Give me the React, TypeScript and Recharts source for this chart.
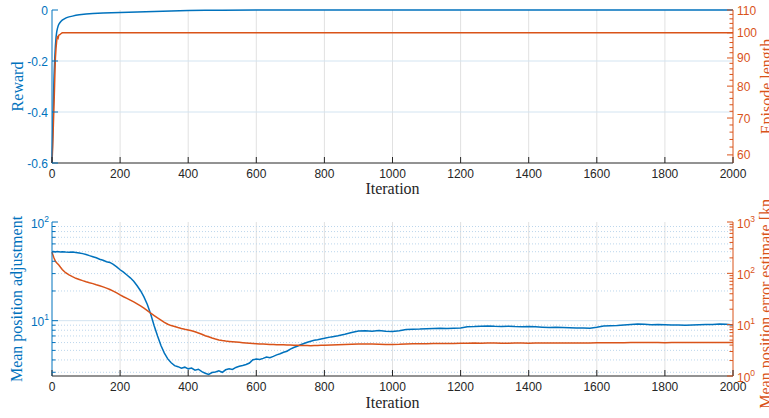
import React from 'react';
import { ComposedChart, Line, XAxis, YAxis, CartesianGrid } from 'recharts';

const BLUE = '#0072BD';
const ORANGE = '#D95319';
const DARK = '#262626';
const GRID_X = '#e1e1e1';
const GRID_Y = '#d3e4f1';
const GRID_MINOR = '#bcd6ec';
const TICK_FONT = '"Liberation Sans", Arial, Helvetica, sans-serif';
const LABEL_FONT = '"Liberation Serif", "Times New Roman", serif';

const xTicks = [0, 200, 400, 600, 800, 1000, 1200, 1400, 1600, 1800, 2000];
const xGrid = [200, 400, 600, 800, 1000, 1200, 1400, 1600, 1800];

// ---- top panel ----
const topIterations = [0, 2, 4, 6, 8, 10, 12, 14, 16, 18, 20, 23, 26, 30, 35, 40, 45, 50, 60, 70, 80, 100, 120, 150, 175, 200, 250, 300, 350, 400, 450, 500, 600, 700, 800, 1000, 1200, 1400, 1600, 1800, 2000];
const rewardValues = [-0.6, -0.48, -0.36, -0.26, -0.19, -0.14, -0.105, -0.085, -0.072, -0.063, -0.056, -0.05, -0.045, -0.04, -0.036, -0.032, -0.029, -0.027, -0.024, -0.021, -0.019, -0.016, -0.014, -0.012, -0.0105, -0.0095, -0.0075, -0.0055, -0.0038, -0.0022, -0.0012, -0.0007, -0.0003, -0.0002, -0.0001, 0, 0, 0, 0, 0, 0];
const episodeLengthValues = [58, 62, 68, 74, 82, 90, 94, 97, 98.2, 97.8, 99, 99.2, 99.6, 100, 100, 100, 100, 100, 100, 100, 100, 100, 100, 100, 100, 100, 100, 100, 100, 100, 100, 100, 100, 100, 100, 100, 100, 100, 100, 100, 100];
const rewardTicks = [-0.6, -0.4, -0.2, 0];
const rewardGrid = [-0.4, -0.2];
const lengthTicks = [60, 70, 80, 90, 100, 110];
const lengthMinorTicks = [62, 64, 66, 68, 72, 74, 76, 78, 82, 84, 86, 88, 92, 94, 96, 98, 102, 104, 106, 108];

// ---- bottom panel ----
const bottomIterations = [0, 5, 10, 15, 20, 25, 30, 40, 50, 60, 70, 80, 90, 100, 110, 120, 130, 140, 150, 160, 170, 180, 190, 200, 210, 220, 230, 240, 250, 260, 270, 280, 290, 300, 310, 320, 330, 340, 350, 360, 370, 380, 390, 400, 410, 420, 430, 440, 450, 460, 470, 480, 490, 500, 510, 520, 530, 540, 550, 560, 570, 580, 590, 600, 610, 620, 630, 640, 650, 660, 670, 680, 690, 700, 710, 720, 730, 740, 750, 760, 770, 780, 790, 800, 820, 840, 860, 880, 900, 920, 940, 960, 980, 1000, 1020, 1040, 1060, 1080, 1100, 1120, 1140, 1160, 1180, 1200, 1220, 1240, 1260, 1280, 1300, 1320, 1340, 1360, 1380, 1400, 1420, 1440, 1460, 1480, 1500, 1520, 1540, 1560, 1580, 1600, 1620, 1640, 1660, 1680, 1700, 1720, 1740, 1760, 1780, 1800, 1820, 1840, 1860, 1880, 1900, 1920, 1940, 1960, 1980, 2000];
const adjustmentValues = [50.0, 50.2, 49.8, 50.1, 49.9, 49.7, 49.9, 49.6, 49.4, 49.7, 49.2, 48.6, 47.8, 46.9, 45.6, 44.5, 43.4, 42.0, 40.9, 39.6, 38.9, 37.2, 35.1, 32.8, 31.0, 29.0, 27.2, 25.1, 22.6, 20.1, 17.4, 14.6, 11.6, 8.9, 7.0, 5.6, 4.7, 4.1, 3.75, 3.5, 3.42, 3.3, 3.38, 3.25, 3.31, 3.15, 3.22, 3.05, 2.93, 2.85, 2.98, 3.02, 3.1, 3.0, 3.18, 3.26, 3.2, 3.36, 3.45, 3.52, 3.6, 3.72, 4.02, 4.08, 4.05, 4.15, 4.28, 4.22, 4.35, 4.5, 4.62, 4.78, 4.9, 5.15, 5.35, 5.5, 5.7, 5.88, 6.05, 6.2, 6.32, 6.4, 6.52, 6.62, 6.85, 7.05, 7.3, 7.6, 7.85, 7.92, 7.82, 7.95, 7.8, 7.78, 7.9, 8.12, 8.2, 8.22, 8.3, 8.35, 8.4, 8.32, 8.38, 8.45, 8.7, 8.72, 8.8, 8.85, 8.78, 8.75, 8.8, 8.72, 8.7, 8.75, 8.68, 8.6, 8.55, 8.6, 8.55, 8.5, 8.45, 8.42, 8.4, 8.6, 8.85, 8.9, 8.95, 9.05, 9.15, 9.25, 9.2, 9.1, 9.12, 9.08, 9.05, 9.02, 9.0, 9.05, 9.1, 9.12, 9.15, 9.25, 9.2, 9.05];
const errorValues = [259, 205, 172, 157, 145, 131, 119, 103, 93, 86, 80, 76, 72, 68.5, 65.5, 63, 60, 57.5, 54.5, 51.5, 48.5, 45, 41.5, 38, 35, 32.5, 30, 27.8, 25.5, 23.2, 21, 18.8, 16.7, 15, 13.5, 12.3, 11.1, 10.2, 9.6, 9.2, 8.8, 8.45, 8.15, 7.9, 7.6, 7.3, 6.9, 6.5, 6.1, 5.8, 5.5, 5.25, 5.05, 4.9, 4.8, 4.72, 4.65, 4.58, 4.52, 4.46, 4.4, 4.35, 4.3, 4.26, 4.22, 4.19, 4.16, 4.13, 4.1, 4.08, 4.06, 4.04, 4.02, 4.0, 3.98, 3.96, 3.94, 3.92, 3.91, 3.9, 3.92, 3.94, 3.96, 3.98, 4.02, 4.06, 4.1, 4.14, 4.2, 4.22, 4.18, 4.15, 4.12, 4.12, 4.14, 4.2, 4.24, 4.25, 4.26, 4.28, 4.3, 4.28, 4.3, 4.33, 4.36, 4.38, 4.36, 4.37, 4.38, 4.36, 4.35, 4.37, 4.38, 4.36, 4.37, 4.38, 4.37, 4.38, 4.4, 4.39, 4.38, 4.4, 4.41, 4.42, 4.44, 4.45, 4.44, 4.46, 4.48, 4.5, 4.49, 4.48, 4.47, 4.46, 4.47, 4.48, 4.47, 4.48, 4.49, 4.5, 4.5, 4.51, 4.5, 4.5];
const adjustmentTicks = [10, 100];
const adjustmentMinorTicks = [3, 4, 5, 6, 7, 8, 9, 20, 30, 40, 50, 60, 70, 80, 90];
const errorTicks = [1, 10, 100, 1000];
const errorMinorTicks = [2, 3, 4, 5, 6, 7, 8, 9, 20, 30, 40, 50, 60, 70, 80, 90, 200, 300, 400, 500, 600, 700, 800, 900];

const topData = topIterations.map((it, i) => ({ it, reward: rewardValues[i], len: episodeLengthValues[i] }));
const bottomData = bottomIterations.map((it, i) => ({ it, adj: adjustmentValues[i], err: errorValues[i] }));

const majorSet = (arr: number[]) => new Set(arr.map((v) => Math.round(v * 1000)));
const lengthMajor = majorSet(lengthTicks);
const adjMajor = majorSet(adjustmentTicks);
const errMajor = majorSet(errorTicks);

const xBottomTick = (props: any) => {
  const { x, y, payload } = props;
  return (
    <g>
      <line x1={x} y1={y} x2={x} y2={y - 6} stroke={DARK} strokeWidth={1} />
      <text x={x} y={y + 15} textAnchor="middle" fontSize={12} fontFamily={TICK_FONT} fill={DARK}>
        {payload.value}
      </text>
    </g>
  );
};

const xTopTick = (props: any) => {
  const { x, y } = props;
  return <line x1={x} y1={y} x2={x} y2={y + 6} stroke={DARK} strokeWidth={1} />;
};

const rewardTick = (props: any) => {
  const { x, y, payload } = props;
  const v = payload.value;
  const label = v === 0 ? '0' : String(v);
  return (
    <g>
      <line x1={x} y1={y} x2={x + 6} y2={y} stroke={BLUE} strokeWidth={1} />
      <text x={x - 4} y={y + 4.5} textAnchor="end" fontSize={12} fontFamily={TICK_FONT} fill={BLUE}>
        {label}
      </text>
    </g>
  );
};

const lengthTick = (props: any) => {
  const { x, y, payload } = props;
  const v = payload.value;
  const major = lengthMajor.has(Math.round(v * 1000));
  return (
    <g>
      <line x1={x} y1={y} x2={x - (major ? 6 : 3.5)} y2={y} stroke={ORANGE} strokeWidth={1} />
      {major && (
        <text x={x + 4} y={y + 4.5} textAnchor="start" fontSize={12} fontFamily={TICK_FONT} fill={ORANGE}>
          {v}
        </text>
      )}
    </g>
  );
};

const makeLogTick = (color: string, majors: Set<number>, side: 'left' | 'right') => (props: any) => {
  const { x, y, payload } = props;
  const v = payload.value;
  const major = majors.has(Math.round(v * 1000));
  const len = major ? 6 : 3.5;
  const exp = Math.round(Math.log10(v));
  const x2 = side === 'left' ? x + len : x - len;
  return (
    <g>
      <line x1={x} y1={y} x2={x2} y2={y} stroke={color} strokeWidth={1} />
      {major && (
        <text
          x={side === 'left' ? x - 3 : x + 4}
          y={y + 5.5}
          textAnchor={side === 'left' ? 'end' : 'start'}
          fontSize={12}
          fontFamily={TICK_FONT}
          fill={color}
        >
          10
          <tspan dy={-6} fontSize={8.5}>
            {exp}
          </tspan>
        </text>
      )}
    </g>
  );
};

const yLabel = (text: string, color: string, offset: number) => (props: any) => {
  const vb = props.viewBox || {};
  const cx = vb.x + offset;
  const cy = vb.y + vb.height / 2;
  return (
    <text
      x={cx}
      y={cy}
      transform={`rotate(-90 ${cx} ${cy})`}
      textAnchor="middle"
      fontSize={16}
      fontFamily={LABEL_FONT}
      fill={color}
    >
      {text}
    </text>
  );
};

const xLabel = (dy: number) => (props: any) => {
  const vb = props.viewBox || {};
  return (
    <text
      x={vb.x + vb.width / 2}
      y={vb.y + dy}
      textAnchor="middle"
      fontSize={16}
      fontFamily={LABEL_FONT}
      fill={DARK}
    >
      Iteration
    </text>
  );
};

export default function App() {
  return (
    <div style={{ position: 'absolute', left: 0, top: 0, width: 769, height: 418, background: '#fff' }}>
      <div style={{ position: 'absolute', left: 0, top: 0 }}>
        <ComposedChart width={769} height={200} data={topData} margin={{ top: 10, right: 0, bottom: 0, left: 0 }}>
          <CartesianGrid xAxisId={0} yAxisId="left" horizontal={false} verticalValues={xGrid} stroke={GRID_X} />
          <CartesianGrid xAxisId={0} yAxisId="left" vertical={false} horizontalValues={rewardGrid} stroke={GRID_Y} />
          <XAxis
            xAxisId={0}
            dataKey="it"
            type="number"
            domain={[0, 2000]}
            ticks={xTicks}
            interval={0}
            height={37}
            tickSize={0}
            tickMargin={0}
            tickLine={false}
            tick={xBottomTick}
            axisLine={{ stroke: DARK }}
            label={xLabel(31)}
          />
          <XAxis
            xAxisId="top"
            orientation="top"
            dataKey="it"
            type="number"
            domain={[0, 2000]}
            ticks={xTicks}
            interval={0}
            height={0}
            tickSize={0}
            tickMargin={0}
            tickLine={false}
            tick={xTopTick}
            axisLine={{ stroke: DARK }}
          />
          <YAxis
            yAxisId="left"
            orientation="left"
            type="number"
            domain={[-0.6, 0]}
            ticks={rewardTicks}
            interval={0}
            width={52}
            tickSize={0}
            tickMargin={0}
            tickLine={false}
            tick={rewardTick}
            axisLine={{ stroke: BLUE }}
            label={yLabel('Reward', BLUE, 23)}
          />
          <YAxis
            yAxisId="right"
            orientation="right"
            type="number"
            scale="log"
            domain={[58, 110]}
            allowDataOverflow
            ticks={[...lengthTicks, ...lengthMinorTicks]}
            interval={0}
            width={36}
            tickSize={0}
            tickMargin={0}
            tickLine={false}
            tick={lengthTick}
            axisLine={{ stroke: ORANGE }}
            label={yLabel('Episode length', ORANGE, 39)}
          />
          <Line yAxisId="left" dataKey="reward" stroke={BLUE} strokeWidth={1.5} dot={false} isAnimationActive={false} />
          <Line yAxisId="right" dataKey="len" stroke={ORANGE} strokeWidth={1.5} dot={false} isAnimationActive={false} />
        </ComposedChart>
      </div>
      <div style={{ position: 'absolute', left: 0, top: 200 }}>
        <ComposedChart width={769} height={218} data={bottomData} margin={{ top: 22, right: 0, bottom: 0, left: 0 }}>
          <CartesianGrid xAxisId={0} yAxisId="left" horizontal={false} verticalValues={xGrid} stroke={GRID_X} />
          <CartesianGrid
            xAxisId={0}
            yAxisId="left"
            vertical={false}
            horizontalValues={adjustmentMinorTicks}
            stroke={GRID_MINOR}
            strokeDasharray="1 2"
          />
          <CartesianGrid xAxisId={0} yAxisId="left" vertical={false} horizontalValues={[10]} stroke={GRID_Y} />
          <XAxis
            xAxisId={0}
            dataKey="it"
            type="number"
            domain={[0, 2000]}
            ticks={xTicks}
            interval={0}
            height={42}
            tickSize={0}
            tickMargin={0}
            tickLine={false}
            tick={xBottomTick}
            axisLine={{ stroke: DARK }}
            label={xLabel(32)}
          />
          <XAxis
            xAxisId="top"
            orientation="top"
            dataKey="it"
            type="number"
            domain={[0, 2000]}
            ticks={xTicks}
            interval={0}
            height={0}
            tickSize={0}
            tickMargin={0}
            tickLine={false}
            tick={xTopTick}
            axisLine={{ stroke: DARK }}
          />
          <YAxis
            yAxisId="left"
            orientation="left"
            type="number"
            scale="log"
            domain={[2.75, 100]}
            allowDataOverflow
            ticks={[...adjustmentTicks, ...adjustmentMinorTicks]}
            interval={0}
            width={52}
            tickSize={0}
            tickMargin={0}
            tickLine={false}
            tick={makeLogTick(BLUE, adjMajor, 'left')}
            axisLine={{ stroke: BLUE }}
            label={yLabel('Mean position adjustment', BLUE, 22)}
          />
          <YAxis
            yAxisId="right"
            orientation="right"
            type="number"
            scale="log"
            domain={[1, 1000]}
            allowDataOverflow
            ticks={[...errorTicks, ...errorMinorTicks]}
            interval={0}
            width={36}
            tickSize={0}
            tickMargin={0}
            tickLine={false}
            tick={makeLogTick(ORANGE, errMajor, 'right')}
            axisLine={{ stroke: ORANGE }}
            label={yLabel('Mean position error estimate [km]', ORANGE, 38)}
          />
          <Line yAxisId="left" dataKey="adj" stroke={BLUE} strokeWidth={1.5} dot={false} isAnimationActive={false} />
          <Line yAxisId="right" dataKey="err" stroke={ORANGE} strokeWidth={1.5} dot={false} isAnimationActive={false} />
        </ComposedChart>
      </div>
    </div>
  );
}
